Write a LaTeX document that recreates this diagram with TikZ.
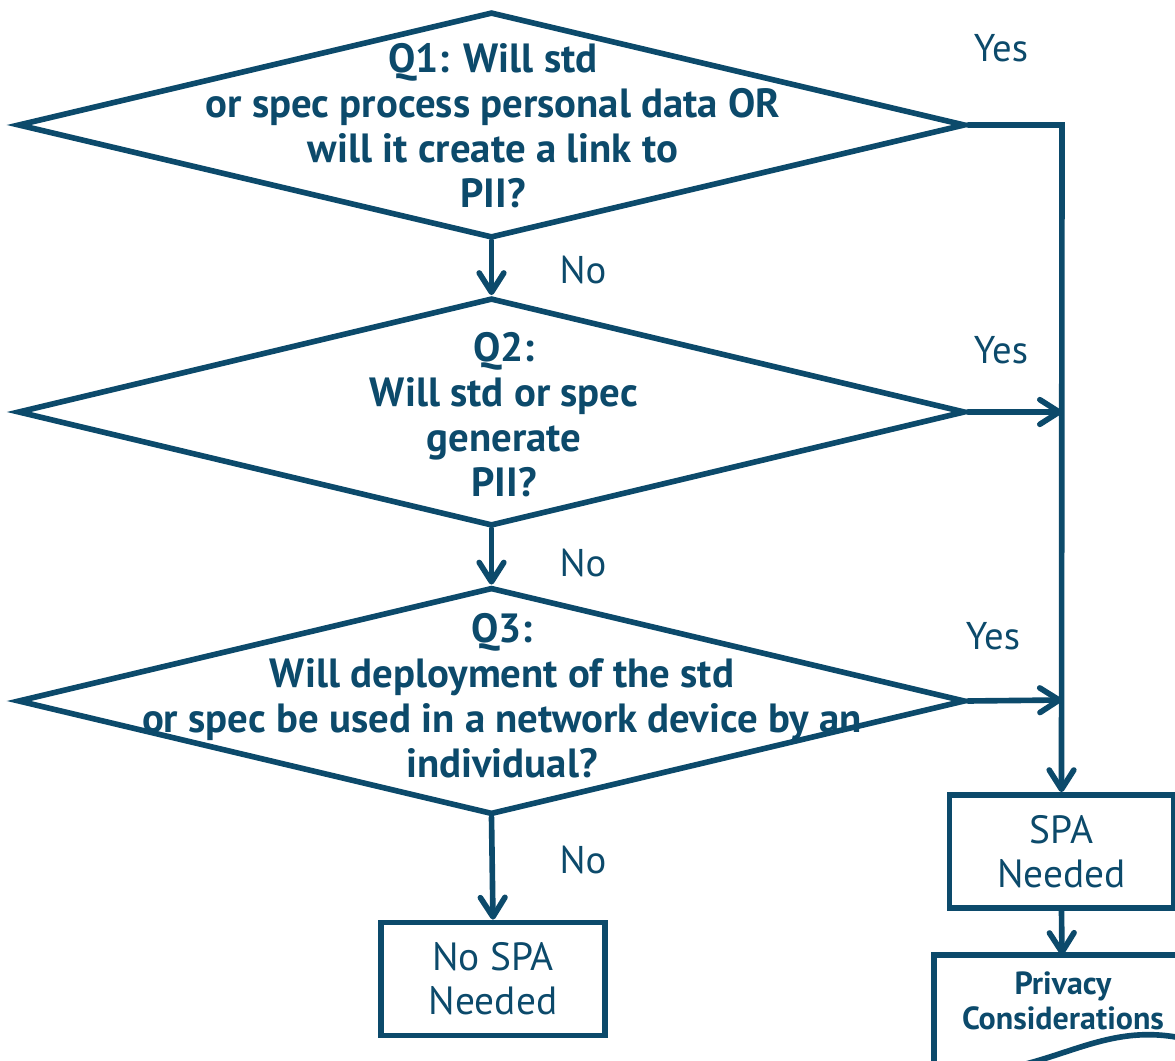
\documentclass[tikz,border=0pt]{standalone}
\usepackage{fontspec}
\setmainfont{PT Sans}
\usetikzlibrary{shapes.geometric,arrows.meta}
\definecolor{ink}{RGB}{12,74,107}
\begin{document}
\begin{tikzpicture}[x=0.01cm,y=-0.01cm,
  line width=1.6pt, draw=ink, text=ink,
  question/.style={diamond, draw, inner sep=0pt, minimum width=9.47cm},
  qtext/.style={align=center, font=\fontsize{11.6}{12.8}\selectfont\bfseries, inner sep=0pt},
  outcome/.style={rectangle, draw, minimum width=2.24cm, minimum height=1.13cm, align=center,
    font=\fontsize{11.2}{12.6}\selectfont, inner sep=0pt},
  answer/.style={font=\fontsize{11}{13}\selectfont, inner sep=0pt},
  flow/.style={-{Straight Barb[length=5.5pt,width=7pt,line cap=round,line join=round]}, line cap=round}
]
\useasboundingbox (0,0) rectangle (1175,1061);
\clip (0,0) rectangle (1175,1061);

% decision diamonds
\node[question, minimum height=2.26cm] (q1) at (491.5,125) {};
\node[question, minimum height=2.28cm] (q2) at (491.5,412) {};
\node[question, minimum height=2.27cm] (q3) at (491.5,701) {};

\node[qtext] (q1t) at (493,125.5) {Q1: Will std\\or spec process personal data OR\\will it create a link to\\PII?};
\node[qtext] (q2t) at (504,415) {Q2:\\Will std or spec\\generate\\PII?};
\node[qtext] (q3t) at (502,695.5) {Q3:\\Will deployment of the std\\or spec be used in a network device by an\\individual?};

% outcomes
\node[outcome] (nospa) at (493,979) {No SPA\\Needed};
\node[outcome] (spa) at (1061.5,851.5) {SPA\\Needed};

% privacy considerations document shape
\coordinate (privtop) at (1062,955);
\draw[fill=white] (934,1075) -- (934,955) -- (1190,955) -- (1190,1040)
  .. controls (1130,1025) and (1090,1045) .. (1040,1060)
  .. controls (1000,1072) and (960,1078) .. (934,1075);
\node[font=\fontsize{9.1}{10}\selectfont\bfseries, align=center, inner sep=0pt] (priv) at (1063,1001) {Privacy\\Considerations};

% right-hand rail
\coordinate (r1) at (1062,125);
\coordinate (r2) at (1062,412);
\coordinate (r3) at (1062,700);

% connectors
\draw[flow] (q1.south) -- (q2.north);
\draw[flow] (q2.south) -- (q3.north);
\draw[flow] (q3.south) -- (nospa.north);
\draw[flow] (q1.east) -- (r1) -- (spa.north);
\draw[flow] (q2.east) -- (r2);
\draw[flow] (q3.east) -- (r3);
\draw[flow] (spa.south) -- (privtop);

% branch labels
\node[answer] (no1) at (583,270) {No};
\node[answer] (no2) at (583,563) {No};
\node[answer] (no3) at (583,860) {No};
\node[answer] (yes1) at (1001,48) {Yes};
\node[answer] (yes2) at (1001,350) {Yes};
\node[answer] (yes3) at (993,636) {Yes};
\end{tikzpicture}
\end{document}
